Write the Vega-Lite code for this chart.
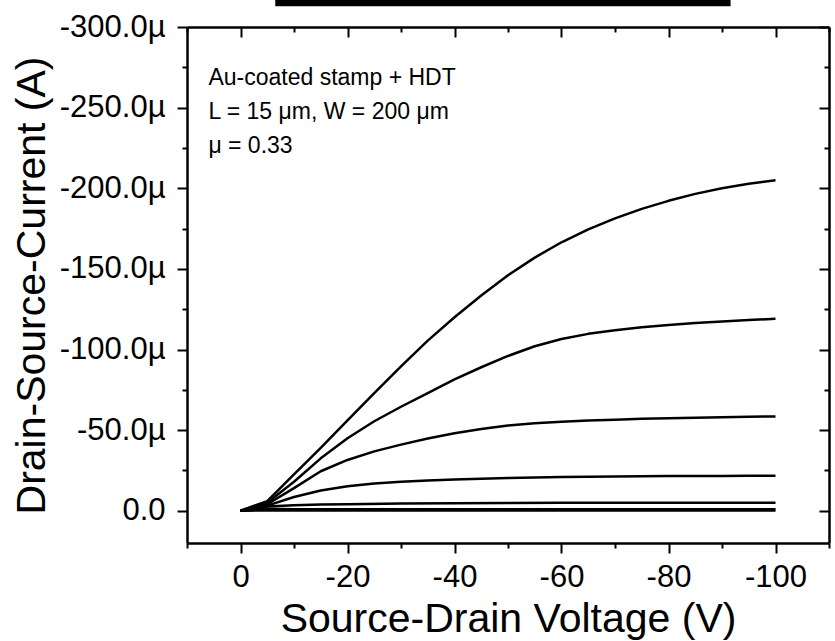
{
  "$schema": "https://vega.github.io/schema/vega-lite/v6.json",
  "width": 642,
  "height": 516,
  "autosize": {"type": "none"},
  "padding": {"left": 187, "top": 27, "right": 6, "bottom": 98},
  "background": "white",
  "config": {
    "view": {"stroke": null},
    "axis": {
      "domainColor": "black", "domainWidth": 2.5, "tickColor": "black", "tickWidth": 2,
      "labelFont": "Liberation Sans", "labelFontSize": 31, "labelColor": "black",
      "titleFont": "Liberation Sans", "titleFontSize": 41, "titleFontWeight": "normal", "titleColor": "black",
      "grid": false
    }
  },
  "datasets": {
    "curves": [
      {"c": "1", "V": 0, "I": 0}, {"c": "1", "V": -5, "I": -6}, {"c": "1", "V": -10, "I": -22.5}, {"c": "1", "V": -15, "I": -39}, {"c": "1", "V": -20, "I": -56}, {"c": "1", "V": -25, "I": -73}, {"c": "1", "V": -30, "I": -89.5}, {"c": "1", "V": -35, "I": -105.5}, {"c": "1", "V": -40, "I": -120}, {"c": "1", "V": -45, "I": -133.5}, {"c": "1", "V": -50, "I": -146}, {"c": "1", "V": -55, "I": -157}, {"c": "1", "V": -60, "I": -166.5}, {"c": "1", "V": -65, "I": -174.5}, {"c": "1", "V": -70, "I": -181.3}, {"c": "1", "V": -75, "I": -187.2}, {"c": "1", "V": -80, "I": -192.2}, {"c": "1", "V": -85, "I": -196.5}, {"c": "1", "V": -90, "I": -200}, {"c": "1", "V": -95, "I": -202.8}, {"c": "1", "V": -100, "I": -205},
      {"c": "2", "V": 0, "I": 0}, {"c": "2", "V": -5, "I": -5}, {"c": "2", "V": -10, "I": -18}, {"c": "2", "V": -15, "I": -32.5}, {"c": "2", "V": -20, "I": -45}, {"c": "2", "V": -25, "I": -55.5}, {"c": "2", "V": -30, "I": -64.5}, {"c": "2", "V": -35, "I": -73}, {"c": "2", "V": -40, "I": -81.5}, {"c": "2", "V": -45, "I": -89}, {"c": "2", "V": -50, "I": -96}, {"c": "2", "V": -55, "I": -102}, {"c": "2", "V": -60, "I": -106.5}, {"c": "2", "V": -65, "I": -109.7}, {"c": "2", "V": -70, "I": -112}, {"c": "2", "V": -75, "I": -113.8}, {"c": "2", "V": -80, "I": -115.2}, {"c": "2", "V": -85, "I": -116.4}, {"c": "2", "V": -90, "I": -117.4}, {"c": "2", "V": -95, "I": -118.3}, {"c": "2", "V": -100, "I": -119},
      {"c": "3", "V": 0, "I": 0}, {"c": "3", "V": -5, "I": -4}, {"c": "3", "V": -10, "I": -14}, {"c": "3", "V": -15, "I": -24.5}, {"c": "3", "V": -20, "I": -31.5}, {"c": "3", "V": -25, "I": -36.8}, {"c": "3", "V": -30, "I": -41}, {"c": "3", "V": -35, "I": -44.8}, {"c": "3", "V": -40, "I": -48}, {"c": "3", "V": -45, "I": -50.7}, {"c": "3", "V": -50, "I": -52.8}, {"c": "3", "V": -55, "I": -54.2}, {"c": "3", "V": -60, "I": -55.2}, {"c": "3", "V": -65, "I": -55.9}, {"c": "3", "V": -70, "I": -56.5}, {"c": "3", "V": -75, "I": -57}, {"c": "3", "V": -80, "I": -57.4}, {"c": "3", "V": -85, "I": -57.7}, {"c": "3", "V": -90, "I": -58}, {"c": "3", "V": -95, "I": -58.3}, {"c": "3", "V": -100, "I": -58.5},
      {"c": "4", "V": 0, "I": 0}, {"c": "4", "V": -5, "I": -3.2}, {"c": "4", "V": -10, "I": -8.5}, {"c": "4", "V": -15, "I": -12.6}, {"c": "4", "V": -20, "I": -15.2}, {"c": "4", "V": -25, "I": -16.9}, {"c": "4", "V": -30, "I": -18}, {"c": "4", "V": -35, "I": -18.8}, {"c": "4", "V": -40, "I": -19.4}, {"c": "4", "V": -45, "I": -19.9}, {"c": "4", "V": -50, "I": -20.3}, {"c": "4", "V": -55, "I": -20.6}, {"c": "4", "V": -60, "I": -20.9}, {"c": "4", "V": -65, "I": -21.1}, {"c": "4", "V": -70, "I": -21.3}, {"c": "4", "V": -75, "I": -21.4}, {"c": "4", "V": -80, "I": -21.5}, {"c": "4", "V": -85, "I": -21.55}, {"c": "4", "V": -90, "I": -21.6}, {"c": "4", "V": -95, "I": -21.65}, {"c": "4", "V": -100, "I": -21.7},
      {"c": "5", "V": 0, "I": 0}, {"c": "5", "V": -5, "I": -2.7}, {"c": "5", "V": -10, "I": -3.4}, {"c": "5", "V": -15, "I": -3.8}, {"c": "5", "V": -20, "I": -4.1}, {"c": "5", "V": -30, "I": -4.5}, {"c": "5", "V": -40, "I": -4.7}, {"c": "5", "V": -50, "I": -4.8}, {"c": "5", "V": -60, "I": -4.9}, {"c": "5", "V": -80, "I": -5.0}, {"c": "5", "V": -100, "I": -5.0},
      {"c": "6", "V": 0, "I": 0}, {"c": "6", "V": -5, "I": -1.2}, {"c": "6", "V": -10, "I": -1.0}, {"c": "6", "V": -20, "I": -0.9}, {"c": "6", "V": -50, "I": -0.9}, {"c": "6", "V": -100, "I": -0.9},
      {"c": "7", "V": 0, "I": 0}, {"c": "7", "V": -5, "I": -0.3}, {"c": "7", "V": -10, "I": -0.1}, {"c": "7", "V": -50, "I": -0.1}, {"c": "7", "V": -100, "I": -0.1}
    ]
  },
  "resolve": {"axis": {"x": "independent", "y": "independent"}},
  "layer": [
    {
      "data": {"name": "curves"},
      "mark": {"type": "line", "color": "black", "strokeWidth": 2.5, "interpolate": "linear", "strokeJoin": "round", "clip": false},
      "encoding": {
        "x": {
          "field": "V", "type": "quantitative",
          "scale": {"domain": [10, -110], "nice": false, "zero": false},
          "axis": {
            "orient": "bottom", "title": "Source-Drain Voltage (V)",
            "values": [10, 0, -10, -20, -30, -40, -50, -60, -70, -80, -90, -100, -110],
            "tickSize": {"condition": {"test": "datum.value % 20 === 0", "value": 10}, "value": 5},
            "labelPadding": 9, "titlePadding": 7,
            "labelExpr": "datum.value % 20 === 0 ? (datum.value === 0 ? '0' : '-' + format(abs(datum.value), 'd')) : ''"
          }
        },
        "y": {
          "field": "I", "type": "quantitative",
          "scale": {"domain": [-300, 20], "reverse": true, "nice": false, "zero": false},
          "axis": {
            "orient": "left", "title": "Drain-Source-Current (A)",
            "values": [-300, -275, -250, -225, -200, -175, -150, -125, -100, -75, -50, -25, 0],
            "tickSize": {"condition": {"test": "datum.value % 50 === 0", "value": 10}, "value": 5},
            "labelPadding": 12, "titlePadding": 6,
            "labelExpr": "datum.value % 50 === 0 ? (datum.value === 0 ? '0.0' : '-' + format(abs(datum.value), '.1f') + 'µ') : ''"
          }
        },
        "detail": {"field": "c", "type": "nominal"}
      }
    },
    {
      "data": {"name": "curves"},
      "mark": {"type": "line", "strokeOpacity": 0, "clip": false},
      "encoding": {
        "x": {
          "field": "V", "type": "quantitative",
          "scale": {"domain": [10, -110], "nice": false, "zero": false},
          "axis": {
            "orient": "top", "title": null, "labels": false,
            "values": [10, 0, -10, -20, -30, -40, -50, -60, -70, -80, -90, -100, -110],
            "tickSize": {"condition": {"test": "datum.value % 20 === 0", "value": -10}, "value": -5}
          }
        },
        "y": {
          "field": "I", "type": "quantitative",
          "scale": {"domain": [-300, 20], "reverse": true, "nice": false, "zero": false},
          "axis": {
            "orient": "right", "title": null, "labels": false,
            "values": [-300, -275, -250, -225, -200, -175, -150, -125, -100, -75, -50, -25, 0],
            "tickSize": {"condition": {"test": "datum.value % 50 === 0", "value": -10}, "value": -5}
          }
        },
        "detail": {"field": "c", "type": "nominal"}
      }
    },
    {
      "data": {"values": [{"note": "annotation"}]},
      "mark": {"type": "text", "align": "left", "baseline": "alphabetic", "font": "Liberation Sans", "fontSize": 23, "lineHeight": 34, "lineBreak": "\n", "color": "black", "clip": false,
        "text": "Au-coated stamp + HDT\nL = 15 μm, W = 200 μm\nμ = 0.33"},
      "encoding": {
        "x": {"datum": 6, "type": "quantitative", "scale": {"domain": [10, -110], "nice": false, "zero": false}, "axis": null},
        "y": {"datum": -264, "type": "quantitative", "scale": {"domain": [-300, 20], "reverse": true, "nice": false, "zero": false}, "axis": null}
      }
    },
    {
      "data": {"values": [{"note": "bar"}]},
      "mark": {"type": "rect", "color": "black", "clip": false},
      "encoding": {
        "x": {"datum": -6.5, "type": "quantitative", "scale": {"domain": [10, -110], "nice": false, "zero": false}, "axis": null},
        "x2": {"datum": -91.6},
        "y": {"datum": -317.2, "type": "quantitative", "scale": {"domain": [-300, 20], "reverse": true, "nice": false, "zero": false}, "axis": null},
        "y2": {"datum": -312.9}
      }
    }
  ]
}
